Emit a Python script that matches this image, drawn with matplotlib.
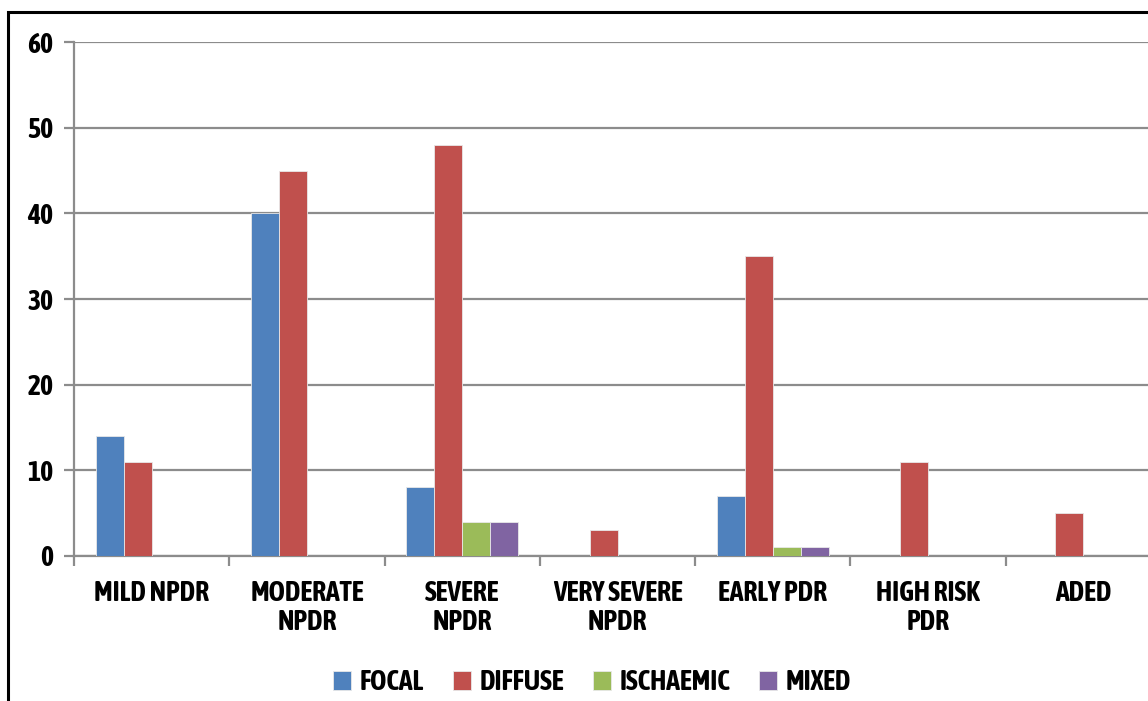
import matplotlib
matplotlib.use("Agg")
import matplotlib.pyplot as plt
from matplotlib.patches import Rectangle
from matplotlib import font_manager
import numpy as np

categories = ["MILD NPDR", "MODERATE\nNPDR", "SEVERE\nNPDR", "VERY SEVERE\nNPDR",
              "EARLY PDR", "HIGH RISK\nPDR", "ADED"]
series_names = ["FOCAL", "DIFFUSE", "ISCHAEMIC", "MIXED"]
focal = [14, 40, 8, 0, 7, 0, 0]
diffuse = [11, 45, 48, 3, 35, 11, 5]
ischaemic = [0, 0, 4, 0, 1, 0, 0]
mixed = [0, 0, 4, 0, 1, 0, 0]
colors = ["#4F81BD", "#C0504D", "#9BBB59", "#8064A2"]
yticks = [0, 10, 20, 30, 40, 50, 60]


def wnum(wt):
    if isinstance(wt, int):
        return wt
    return font_manager.weight_dict.get(str(wt), 400)


cands = []
for f in font_manager.fontManager.ttflist:
    if ("Narrow" in f.name or "Condensed" in f.name) and wnum(f.weight) >= 600 \
            and f.style == "normal":
        pri = 0 if "Liberation Sans Narrow" in f.name else (1 if "Arial" in f.name else 2)
        cands.append((pri, abs(wnum(f.weight) - 700), f.name, f.fname))
cands.sort()
if cands:
    font_manager.fontManager.addfont(cands[0][3])
    fam = cands[0][2]
    fs = 20
else:
    fam = "Liberation Sans"
    fs = 16
plt.rcParams["font.family"] = [fam, "DejaVu Sans"]
plt.rcParams["font.weight"] = "bold"

W, H = 1148, 701
fig = plt.figure(figsize=(W / 100, H / 100), dpi=100)

# outer frame
fig.patches.append(Rectangle((8 / W, -0.1), 1.2, (H - 12) / H + 0.1, transform=fig.transFigure,
                             fill=False, edgecolor="black", linewidth=2.2, zorder=0))

left, right, top, bottom = 74, 1161, 42, 556
ax = fig.add_axes([left / W, (H - bottom) / H, (right - left) / W, (bottom - top) / H])

data = [focal, diffuse, ischaemic, mixed]
x = np.arange(len(categories))
w = 0.18
for j, (vals, c, name) in enumerate(zip(data, colors, series_names)):
    ax.bar(x + (j - 1.5) * w, vals, width=w, color=c, edgecolor="#e8e8e8",
           linewidth=0.6, label=name, zorder=3)

ax.set_ylim(0, 60)
ax.set_xlim(-0.5, len(categories) - 0.5)
ax.set_yticks(yticks)
ax.set_yticklabels([str(v) for v in yticks], fontsize=fs, fontweight="bold")
ax.yaxis.grid(True, color="#8c8c8c", linewidth=1.6, zorder=0)
ax.set_axisbelow(True)

ax.set_xticks(np.arange(len(categories) + 1) - 0.5)
ax.set_xticklabels([])
ax.set_xticks(x, minor=True)
ax.set_xticklabels(categories, minor=True, fontsize=fs, fontweight="bold", linespacing=1.12)
ax.tick_params(axis="x", which="minor", length=0, pad=17)
ax.tick_params(axis="x", which="major", length=7, width=1.6, color="#8c8c8c")
ax.tick_params(axis="y", length=7, width=1.6, color="#8c8c8c", pad=8)

for s in ["top", "right"]:
    ax.spines[s].set_visible(False)
for s in ["left", "bottom"]:
    ax.spines[s].set_color("#8c8c8c")
    ax.spines[s].set_linewidth(1.6)

leg = fig.legend(loc="center", bbox_to_anchor=(592 / W, (H - 683) / H), ncol=4, frameon=False,
                 prop={"size": fs, "weight": "bold"}, handlelength=0.65, handleheight=0.65,
                 handletextpad=0.3, columnspacing=1.05)

fig.savefig("out.png", dpi=100)
